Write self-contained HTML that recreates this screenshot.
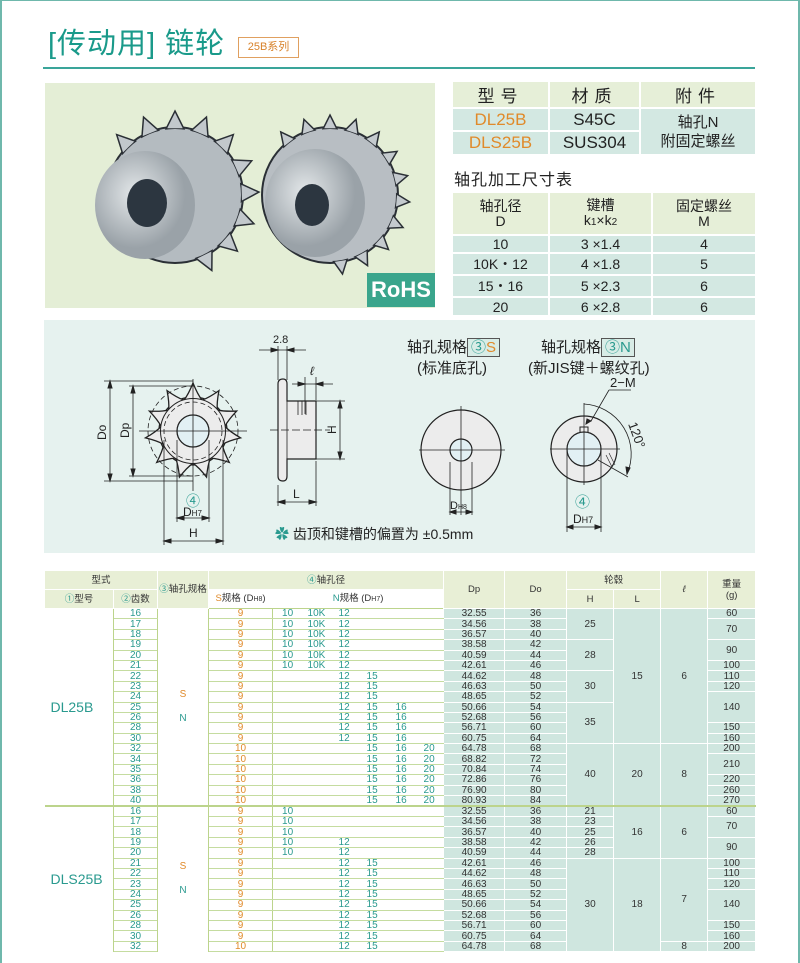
<!DOCTYPE html>
<html><head><meta charset="utf-8">
<style>
*{margin:0;padding:0;box-sizing:border-box}
body{width:800px;height:963px;position:relative;background:#fff;font-family:"Liberation Sans","Noto Sans CJK SC",sans-serif;color:#222;overflow:hidden}
.a{position:absolute}
.frame{left:0;top:0;width:800px;height:963px;border-left:2px solid #6fb8ac;border-top:1px solid #6fb8ac;border-right:2px solid #6fb8ac}
table{border-collapse:collapse;table-layout:fixed}
.tt td{text-align:center;padding:0}
#big{position:absolute;left:44px;top:570px;width:711px;font-size:10px;color:#333}
#big td{padding:0;text-align:center;line-height:9px;height:10.4px;white-space:nowrap}
#big tr{height:10.4px}
#big .h{background:#e8efd6;border:1px solid #fff;font-size:9.5px;color:#333;line-height:11px}
#big td.g{border-left:1.5px solid #bcd48c;border-right:1.5px solid #bcd48c;background:#fff;line-height:24px}
#big td.t{color:#2a9a8f;border-bottom:1px solid #c5dca0;border-left:1.5px solid #bcd48c;border-right:1.5px solid #bcd48c}
#big td.s{color:#e08a2a;border-bottom:1px solid #c5dca0;border-right:1.5px solid #bcd48c}
#big td.n{color:#2a9a8f;border-bottom:1px solid #c5dca0;text-align:left;padding-left:4px}
#big td.n1{padding-left:9px}
#big td.r{background:#cfe6df;border:1px solid #fff}
#big tr.sep td{border-top:2px solid #bcd48c}
#big td.m{font-size:14px;color:#2a9a8f;background:#fff;text-align:left;padding-left:6px;border-right:1.5px solid #bcd48c;line-height:16px}
</style></head><body>
<div class="a frame"></div>
<div class="a" style="left:48px;top:26px;font-size:29px;color:#1a9a8a;letter-spacing:1px;line-height:36px">[传动用] 链轮</div>
<div class="a" style="left:238px;top:37px;width:61px;height:21px;border:1.5px solid #e0a060;color:#d8822a;font-size:11px;line-height:18px;text-align:center">25B系列</div>
<div class="a" style="left:43px;top:67px;width:712px;height:2px;background:#3aa59a"></div>

<div class="a" style="left:45px;top:83px;width:390px;height:225px;background:#e4eed6"></div>
<svg class="a" style="left:45px;top:83px" width="390" height="225">
<defs><radialGradient id="m" cx="40%" cy="40%"><stop offset="0" stop-color="#e4e8ea"/><stop offset="1" stop-color="#9aa2a8"/></radialGradient></defs>
<g transform="translate(130,112)">
<circle r="68" fill="#b4bbc0" stroke="#2a2f35" stroke-width="2"/>
<g fill="#c2c8cc" stroke="#2a2f35" stroke-width="1.5">
<polygon points="0,-84 9,-66 -9,-66"/><polygon points="0,-84 9,-66 -9,-66" transform="rotate(22)"/><polygon points="0,-84 9,-66 -9,-66" transform="rotate(44)"/><polygon points="0,-84 9,-66 -9,-66" transform="rotate(66)"/><polygon points="0,-84 9,-66 -9,-66" transform="rotate(88)"/><polygon points="0,-84 9,-66 -9,-66" transform="rotate(110)"/><polygon points="0,-84 9,-66 -9,-66" transform="rotate(132)"/><polygon points="0,-84 9,-66 -9,-66" transform="rotate(154)"/><polygon points="0,-84 9,-66 -9,-66" transform="rotate(-22)"/><polygon points="0,-84 9,-66 -9,-66" transform="rotate(-44)"/></g>
<circle r="66" fill="#b4bbc0"/>
<ellipse cx="-30" cy="10" rx="50" ry="54" fill="url(#m)"/>
<ellipse cx="-28" cy="8" rx="20" ry="24" fill="#2c3640"/>
</g>
<g transform="translate(285,112)">
<circle r="68" fill="#b8bec3" stroke="#2a2f35" stroke-width="2"/>
<g fill="#c4cace" stroke="#2a2f35" stroke-width="1.5">
<polygon points="0,-80 7,-66 -7,-66"/><polygon points="0,-80 7,-66 -7,-66" transform="rotate(19)"/><polygon points="0,-80 7,-66 -7,-66" transform="rotate(38)"/><polygon points="0,-80 7,-66 -7,-66" transform="rotate(57)"/><polygon points="0,-80 7,-66 -7,-66" transform="rotate(76)"/><polygon points="0,-80 7,-66 -7,-66" transform="rotate(95)"/><polygon points="0,-80 7,-66 -7,-66" transform="rotate(114)"/><polygon points="0,-80 7,-66 -7,-66" transform="rotate(133)"/><polygon points="0,-80 7,-66 -7,-66" transform="rotate(152)"/><polygon points="0,-80 7,-66 -7,-66" transform="rotate(-19)"/><polygon points="0,-80 7,-66 -7,-66" transform="rotate(-38)"/><polygon points="0,-80 7,-66 -7,-66" transform="rotate(171)"/></g>
<circle r="66" fill="#b8bec3"/>
<ellipse cx="-15" cy="8" rx="50" ry="54" fill="url(#m)"/>
<ellipse cx="-18" cy="10" rx="17" ry="21" fill="#2c3640"/>
</g>
</svg>
<div class="a" style="left:367px;top:273px;width:68px;height:34px;background:#3aa58c;color:#fff;font-weight:bold;font-size:22px;line-height:34px;text-align:center">RoHS</div>

<table class="a tt" style="left:453px;top:82px;width:302px;font-size:17px">
<tr style="height:24px;background:#e6efd8"><td style="width:96px;border-right:2px solid #fff;letter-spacing:6px">型号</td><td style="width:91px;border-right:2px solid #fff;letter-spacing:6px">材质</td><td style="letter-spacing:6px">附件</td></tr>
<tr style="height:23px;background:#d3e8e2;border-top:2px solid #fff"><td style="color:#e08a2a;border-right:2px solid #fff">DL25B</td><td style="border-right:2px solid #fff">S45C</td><td rowspan="2" style="font-size:15px;line-height:19px">轴孔N<br>附固定螺丝</td></tr>
<tr style="height:23px;background:#d3e8e2;border-top:2px solid #fff"><td style="color:#e08a2a;border-right:2px solid #fff">DLS25B</td><td style="border-right:2px solid #fff">SUS304</td></tr>
</table>
<div class="a" style="left:454px;top:166px;font-size:16px;letter-spacing:1px">轴孔加工尺寸表</div>
<table class="a tt" style="left:453px;top:193px;width:302px;font-size:14px">
<tr style="height:42px;background:#e6efd8;line-height:15px"><td style="width:96px;border-right:2px solid #fff">轴孔径<br>D</td><td style="width:103px;border-right:2px solid #fff">键槽<br>k<span style="font-size:10px">1</span>×k<span style="font-size:10px">2</span></td><td>固定螺丝<br>M</td></tr>
<tr style="height:18px;background:#d3e8e2;border-top:2px solid #fff"><td style="border-right:2px solid #fff">10</td><td style="border-right:2px solid #fff">3 ×1.4</td><td>4</td></tr>
<tr style="height:18px;background:#d3e8e2;border-top:2px solid #fff"><td style="border-right:2px solid #fff">10K・12</td><td style="border-right:2px solid #fff">4 ×1.8</td><td>5</td></tr>
<tr style="height:18px;background:#d3e8e2;border-top:2px solid #fff"><td style="border-right:2px solid #fff">15・16</td><td style="border-right:2px solid #fff">5 ×2.3</td><td>6</td></tr>
<tr style="height:18px;background:#d3e8e2;border-top:2px solid #fff"><td style="border-right:2px solid #fff">20</td><td style="border-right:2px solid #fff">6 ×2.8</td><td>6</td></tr>
</table>

<div class="a" style="left:44px;top:320px;width:711px;height:233px;background:#e6f2ef"></div>
<svg class="a" style="left:0;top:0" width="800" height="560" font-family="Liberation Sans, Noto Sans CJK SC, sans-serif" font-size="11" fill="none" stroke="#222" stroke-width="1">
<g transform="translate(193,431)">
<circle r="34" fill="#ececec" stroke="#222" stroke-width="1.3"/>
<g fill="#ececec" stroke="#222" stroke-width="1.3">
<path id="tt" d="M -9,-31 C -5,-36 -2,-43 0,-48 C 2,-43 5,-36 9,-31"/>
<use href="#tt" transform="rotate(32.73)"/><use href="#tt" transform="rotate(65.45)"/><use href="#tt" transform="rotate(98.18)"/><use href="#tt" transform="rotate(130.9)"/><use href="#tt" transform="rotate(163.6)"/><use href="#tt" transform="rotate(196.4)"/><use href="#tt" transform="rotate(229.1)"/><use href="#tt" transform="rotate(261.8)"/><use href="#tt" transform="rotate(294.5)"/><use href="#tt" transform="rotate(327.3)"/>
</g>
<circle r="32.5" fill="#ececec"/>
<circle r="45" stroke-dasharray="5,3" stroke-width="0.8"/>
<circle r="29" stroke-dasharray="5,3" stroke-width="0.8"/>
<circle r="16" fill="#e2f0f4" stroke-width="1.3"/>
<line x1="-54" y1="0" x2="54" y2="0" stroke-width="0.8"/>
<line x1="0" y1="-52" x2="0" y2="60" stroke-width="0.8"/>
</g>
<line x1="104" y1="381" x2="193" y2="381" stroke-width="0.8"/><line x1="104" y1="481" x2="193" y2="481" stroke-width="0.8"/>
<line x1="110" y1="383" x2="110" y2="479" stroke-width="0.8"/>
<path d="M110,381 l-2,7 h4z M110,481 l-2,-7 h4z" fill="#222"/>
<line x1="129" y1="386" x2="193" y2="386" stroke-width="0.8"/><line x1="129" y1="476" x2="193" y2="476" stroke-width="0.8"/>
<line x1="133" y1="388" x2="133" y2="474" stroke-width="0.8"/>
<path d="M133,386 l-2,7 h4z M133,476 l-2,-7 h4z" fill="#222"/>
<text x="0" y="0" transform="translate(106,440) rotate(-90)" fill="#222" stroke="none" font-size="12">Do</text>
<text x="0" y="0" transform="translate(129,438) rotate(-90)" fill="#222" stroke="none" font-size="12">Dp</text>
<line x1="177" y1="440" x2="177" y2="522" stroke-width="0.8"/><line x1="209" y1="440" x2="209" y2="522" stroke-width="0.8"/>
<line x1="179" y1="518" x2="207" y2="518" stroke-width="0.8"/><path d="M177,518 l7,-2 v4z M209,518 l-7,-2 v4z" fill="#222"/>
<text x="186" y="506" fill="#2a9a8f" stroke="none" font-size="14">④</text>
<text x="183" y="516" fill="#222" stroke="none" font-size="12">D<tspan font-size="8">H7</tspan></text>
<line x1="164" y1="440" x2="164" y2="545" stroke-width="0.8"/><line x1="223" y1="440" x2="223" y2="545" stroke-width="0.8"/>
<line x1="166" y1="541" x2="221" y2="541" stroke-width="0.8"/><path d="M164,541 l7,-2 v4z M223,541 l-7,-2 v4z" fill="#222"/>
<text x="189" y="537" fill="#222" stroke="none" font-size="12">H</text>
<path d="M278,384 q0,-5 5,-5 q4,0 4,5 v17 h29 v58 h-29 v17 q0,5 -4,5 q-5,0 -5,-5z" fill="#ececec" stroke-width="1.2"/>
<line x1="287" y1="401" x2="287" y2="459" stroke-width="0.8"/>
<line x1="298" y1="401" x2="298" y2="415" stroke-width="0.8"/><line x1="302" y1="401" x2="302" y2="415" stroke-width="0.8"/><line x1="306" y1="401" x2="306" y2="415" stroke-width="0.8"/>
<line x1="270" y1="430" x2="330" y2="430" stroke-width="0.8" stroke-dasharray="8,3"/>
<line x1="278" y1="346" x2="278" y2="380" stroke-width="0.8"/><line x1="287" y1="346" x2="287" y2="380" stroke-width="0.8"/>
<line x1="259" y1="350" x2="306" y2="350" stroke-width="0.8"/><path d="M278,350 l-7,-2 v4z M287,350 l7,-2 v4z" fill="#222"/>
<text x="273" y="343" fill="#222" stroke="none" font-size="11">2.8</text>
<line x1="305" y1="377" x2="305" y2="414" stroke-width="0.8"/><line x1="316" y1="377" x2="316" y2="400" stroke-width="0.8"/>
<line x1="292" y1="384" x2="333" y2="384" stroke-width="0.8"/><path d="M305,384 l-7,-2 v4z M316,384 l7,-2 v4z" fill="#222"/>
<text x="310" y="375" fill="#222" stroke="none" font-size="12" font-style="italic">ℓ</text>
<line x1="316" y1="401" x2="345" y2="401" stroke-width="0.8"/><line x1="316" y1="459" x2="345" y2="459" stroke-width="0.8"/>
<line x1="340" y1="403" x2="340" y2="457" stroke-width="0.8"/><path d="M340,401 l-2,7 h4z M340,459 l-2,-7 h4z" fill="#222"/>
<text x="0" y="0" transform="translate(336,434) rotate(-90)" fill="#222" stroke="none" font-size="12">H</text>
<line x1="278" y1="485" x2="278" y2="506" stroke-width="0.8"/><line x1="316" y1="461" x2="316" y2="506" stroke-width="0.8"/>
<line x1="280" y1="502" x2="314" y2="502" stroke-width="0.8"/><path d="M278,502 l7,-2 v4z M316,502 l-7,-2 v4z" fill="#222"/>
<text x="293" y="498" fill="#222" stroke="none" font-size="12">L</text>
<circle cx="461" cy="450" r="40" fill="#ececec" stroke-width="1.2"/>
<circle cx="461" cy="450" r="11" fill="#e2f0f4" stroke-width="1.2"/>
<line x1="419" y1="450" x2="505" y2="450" stroke-width="0.8"/><line x1="461" y1="406" x2="461" y2="515" stroke-width="0.8"/>
<line x1="450" y1="462" x2="450" y2="515" stroke-width="0.8"/><line x1="472" y1="462" x2="472" y2="515" stroke-width="0.8"/>
<line x1="452" y1="512" x2="470" y2="512" stroke-width="0.8"/><path d="M450,512 l6,-2 v4z M472,512 l-6,-2 v4z" fill="#222"/>
<text x="450" y="509" fill="#222" stroke="none" font-size="11">D<tspan font-size="7">H8</tspan></text>
<circle cx="584" cy="449" r="33" fill="#ececec" stroke-width="1.2"/>
<path d="M580,432 v-5 h8 v5" fill="#ececec" stroke-width="1"/>
<circle cx="584" cy="449" r="17" fill="#e2f0f4" stroke-width="1.2"/>
<line x1="550" y1="449" x2="620" y2="449" stroke-width="0.8"/><line x1="584" y1="403" x2="584" y2="485" stroke-width="0.8"/>
<line x1="567" y1="449" x2="567" y2="532" stroke-width="0.8"/><line x1="601" y1="449" x2="601" y2="532" stroke-width="0.8"/>
<line x1="569" y1="527" x2="599" y2="527" stroke-width="0.8"/><path d="M567,527 l6,-2 v4z M601,527 l-6,-2 v4z" fill="#222"/>
<text x="575" y="507" fill="#2a9a8f" stroke="none" font-size="15">④</text>
<text x="573" y="523" fill="#222" stroke="none" font-size="12">D<tspan font-size="9">H7</tspan></text>
<path d="M584,404 A50,50 0 0 1 627,474" stroke-width="0.8"/>
<path d="M627,474 l-1,-7 l4,1z" fill="#222"/>
<line x1="598" y1="460" x2="628" y2="477" stroke-width="0.8"/>
<line x1="606" y1="455" x2="612" y2="467" stroke-width="0.6"/><line x1="609" y1="453" x2="615" y2="465" stroke-width="0.6"/>
<path d="M591,421 l-5,3 l1,-5z" fill="#222"/>
<line x1="591" y1="421" x2="609" y2="390" stroke-width="0.8"/><line x1="609" y1="390" x2="631" y2="390" stroke-width="0.8"/>
<text x="610" y="387" fill="#222" stroke="none" font-size="13">2−M</text>
<text x="0" y="0" transform="translate(628,424) rotate(70)" fill="#222" stroke="none" font-size="13">120°</text>
</svg>
<div class="a" style="left:407px;top:337px;font-size:15px;line-height:22px">轴孔规格<span style="border:1px solid #555;background:#d8ece6;padding:0 3px"><span style="color:#2a9a8f">③</span><span style="color:#e08a2a">S</span></span></div>
<div class="a" style="left:417px;top:358px;font-size:15px;line-height:22px">(标准底孔)</div>
<div class="a" style="left:541px;top:337px;font-size:15px;line-height:22px">轴孔规格<span style="border:1px solid #555;background:#d8ece6;padding:0 3px;color:#2a9a8f">③N</span></div>
<div class="a" style="left:528px;top:358px;font-size:15px;line-height:22px">(新JIS键＋螺纹孔)</div>
<div class="a" style="left:275px;top:524px;font-size:14px;line-height:20px"><span style="color:#2a9a8f">✿</span> 齿顶和键槽的偏置为 ±0.5mm</div>

<table id="big">
<colgroup><col style="width:69px"><col style="width:44px"><col style="width:51px"><col style="width:64px"><col style="width:31px"><col style="width:31px"><col style="width:28px"><col style="width:29px"><col style="width:28px"><col style="width:24px"><col style="width:61px"><col style="width:62px"><col style="width:47px"><col style="width:47px"><col style="width:47px"><col style="width:48px"></colgroup>
<tr style="height:19px"><td class="h" colspan="2">型式</td><td class="h" rowspan="2"><span style="color:#2a9a8f">③</span>轴孔规格</td><td class="h" colspan="7"><span style="color:#2a9a8f">④</span>轴孔径</td><td class="h" rowspan="2">Dp</td><td class="h" rowspan="2">Do</td><td class="h" colspan="2">轮毂</td><td class="h" rowspan="2"><i>ℓ</i></td><td class="h" rowspan="2">重量<br>(g)</td></tr>
<tr style="height:19px"><td class="h"><span style="color:#2a9a8f">①</span>型号</td><td class="h"><span style="color:#2a9a8f">②</span>齿数</td><td class="h" style="background:#fff;border-bottom:1.5px solid #bcd48c"><span style="color:#e08a2a">S</span>规格 (D<span style="font-size:7px">H8</span>)</td><td class="h" colspan="6" style="background:#fff;border-bottom:1.5px solid #bcd48c"><span style="color:#2a9a8f">N</span>规格 (D<span style="font-size:7px">H7</span>)</td><td class="h">H</td><td class="h">L</td></tr>
<tr><td class="m" rowspan="19">DL25B</td><td class="t">16</td><td class="g" rowspan="19" style="color:#e08a2a">S<br><span style="color:#2a9a8f">N</span></td><td class="s">9</td><td class="n n1">10</td><td class="n">10K</td><td class="n">12</td><td class="n"></td><td class="n"></td><td class="n"></td><td class="r">32.55</td><td class="r">36</td><td class="r" rowspan="3">25</td><td class="r" rowspan="13">15</td><td class="r" rowspan="13">6</td><td class="r">60</td></tr>
<tr><td class="t">17</td><td class="s">9</td><td class="n n1">10</td><td class="n">10K</td><td class="n">12</td><td class="n"></td><td class="n"></td><td class="n"></td><td class="r">34.56</td><td class="r">38</td><td class="r" rowspan="2">70</td></tr>
<tr><td class="t">18</td><td class="s">9</td><td class="n n1">10</td><td class="n">10K</td><td class="n">12</td><td class="n"></td><td class="n"></td><td class="n"></td><td class="r">36.57</td><td class="r">40</td></tr>
<tr><td class="t">19</td><td class="s">9</td><td class="n n1">10</td><td class="n">10K</td><td class="n">12</td><td class="n"></td><td class="n"></td><td class="n"></td><td class="r">38.58</td><td class="r">42</td><td class="r" rowspan="3">28</td><td class="r" rowspan="2">90</td></tr>
<tr><td class="t">20</td><td class="s">9</td><td class="n n1">10</td><td class="n">10K</td><td class="n">12</td><td class="n"></td><td class="n"></td><td class="n"></td><td class="r">40.59</td><td class="r">44</td></tr>
<tr><td class="t">21</td><td class="s">9</td><td class="n n1">10</td><td class="n">10K</td><td class="n">12</td><td class="n"></td><td class="n"></td><td class="n"></td><td class="r">42.61</td><td class="r">46</td><td class="r">100</td></tr>
<tr><td class="t">22</td><td class="s">9</td><td class="n n1"></td><td class="n"></td><td class="n">12</td><td class="n">15</td><td class="n"></td><td class="n"></td><td class="r">44.62</td><td class="r">48</td><td class="r" rowspan="3">30</td><td class="r">110</td></tr>
<tr><td class="t">23</td><td class="s">9</td><td class="n n1"></td><td class="n"></td><td class="n">12</td><td class="n">15</td><td class="n"></td><td class="n"></td><td class="r">46.63</td><td class="r">50</td><td class="r">120</td></tr>
<tr><td class="t">24</td><td class="s">9</td><td class="n n1"></td><td class="n"></td><td class="n">12</td><td class="n">15</td><td class="n"></td><td class="n"></td><td class="r">48.65</td><td class="r">52</td><td class="r" rowspan="3">140</td></tr>
<tr><td class="t">25</td><td class="s">9</td><td class="n n1"></td><td class="n"></td><td class="n">12</td><td class="n">15</td><td class="n">16</td><td class="n"></td><td class="r">50.66</td><td class="r">54</td><td class="r" rowspan="4">35</td></tr>
<tr><td class="t">26</td><td class="s">9</td><td class="n n1"></td><td class="n"></td><td class="n">12</td><td class="n">15</td><td class="n">16</td><td class="n"></td><td class="r">52.68</td><td class="r">56</td></tr>
<tr><td class="t">28</td><td class="s">9</td><td class="n n1"></td><td class="n"></td><td class="n">12</td><td class="n">15</td><td class="n">16</td><td class="n"></td><td class="r">56.71</td><td class="r">60</td><td class="r">150</td></tr>
<tr><td class="t">30</td><td class="s">9</td><td class="n n1"></td><td class="n"></td><td class="n">12</td><td class="n">15</td><td class="n">16</td><td class="n"></td><td class="r">60.75</td><td class="r">64</td><td class="r">160</td></tr>
<tr><td class="t">32</td><td class="s">10</td><td class="n n1"></td><td class="n"></td><td class="n"></td><td class="n">15</td><td class="n">16</td><td class="n">20</td><td class="r">64.78</td><td class="r">68</td><td class="r" rowspan="6">40</td><td class="r" rowspan="6">20</td><td class="r" rowspan="6">8</td><td class="r">200</td></tr>
<tr><td class="t">34</td><td class="s">10</td><td class="n n1"></td><td class="n"></td><td class="n"></td><td class="n">15</td><td class="n">16</td><td class="n">20</td><td class="r">68.82</td><td class="r">72</td><td class="r" rowspan="2">210</td></tr>
<tr><td class="t">35</td><td class="s">10</td><td class="n n1"></td><td class="n"></td><td class="n"></td><td class="n">15</td><td class="n">16</td><td class="n">20</td><td class="r">70.84</td><td class="r">74</td></tr>
<tr><td class="t">36</td><td class="s">10</td><td class="n n1"></td><td class="n"></td><td class="n"></td><td class="n">15</td><td class="n">16</td><td class="n">20</td><td class="r">72.86</td><td class="r">76</td><td class="r">220</td></tr>
<tr><td class="t">38</td><td class="s">10</td><td class="n n1"></td><td class="n"></td><td class="n"></td><td class="n">15</td><td class="n">16</td><td class="n">20</td><td class="r">76.90</td><td class="r">80</td><td class="r">260</td></tr>
<tr><td class="t">40</td><td class="s">10</td><td class="n n1"></td><td class="n"></td><td class="n"></td><td class="n">15</td><td class="n">16</td><td class="n">20</td><td class="r">80.93</td><td class="r">84</td><td class="r">270</td></tr>
<tr class="sep"><td class="m" rowspan="14">DLS25B</td><td class="t">16</td><td class="g" rowspan="14" style="color:#e08a2a">S<br><span style="color:#2a9a8f">N</span></td><td class="s">9</td><td class="n n1">10</td><td class="n"></td><td class="n"></td><td class="n"></td><td class="n"></td><td class="n"></td><td class="r">32.55</td><td class="r">36</td><td class="r">21</td><td class="r" rowspan="5">16</td><td class="r" rowspan="5">6</td><td class="r">60</td></tr>
<tr><td class="t">17</td><td class="s">9</td><td class="n n1">10</td><td class="n"></td><td class="n"></td><td class="n"></td><td class="n"></td><td class="n"></td><td class="r">34.56</td><td class="r">38</td><td class="r">23</td><td class="r" rowspan="2">70</td></tr>
<tr><td class="t">18</td><td class="s">9</td><td class="n n1">10</td><td class="n"></td><td class="n"></td><td class="n"></td><td class="n"></td><td class="n"></td><td class="r">36.57</td><td class="r">40</td><td class="r">25</td></tr>
<tr><td class="t">19</td><td class="s">9</td><td class="n n1">10</td><td class="n"></td><td class="n">12</td><td class="n"></td><td class="n"></td><td class="n"></td><td class="r">38.58</td><td class="r">42</td><td class="r">26</td><td class="r" rowspan="2">90</td></tr>
<tr><td class="t">20</td><td class="s">9</td><td class="n n1">10</td><td class="n"></td><td class="n">12</td><td class="n"></td><td class="n"></td><td class="n"></td><td class="r">40.59</td><td class="r">44</td><td class="r">28</td></tr>
<tr><td class="t">21</td><td class="s">9</td><td class="n n1"></td><td class="n"></td><td class="n">12</td><td class="n">15</td><td class="n"></td><td class="n"></td><td class="r">42.61</td><td class="r">46</td><td class="r" rowspan="9">30</td><td class="r" rowspan="9">18</td><td class="r" rowspan="8">7</td><td class="r">100</td></tr>
<tr><td class="t">22</td><td class="s">9</td><td class="n n1"></td><td class="n"></td><td class="n">12</td><td class="n">15</td><td class="n"></td><td class="n"></td><td class="r">44.62</td><td class="r">48</td><td class="r">110</td></tr>
<tr><td class="t">23</td><td class="s">9</td><td class="n n1"></td><td class="n"></td><td class="n">12</td><td class="n">15</td><td class="n"></td><td class="n"></td><td class="r">46.63</td><td class="r">50</td><td class="r">120</td></tr>
<tr><td class="t">24</td><td class="s">9</td><td class="n n1"></td><td class="n"></td><td class="n">12</td><td class="n">15</td><td class="n"></td><td class="n"></td><td class="r">48.65</td><td class="r">52</td><td class="r" rowspan="3">140</td></tr>
<tr><td class="t">25</td><td class="s">9</td><td class="n n1"></td><td class="n"></td><td class="n">12</td><td class="n">15</td><td class="n"></td><td class="n"></td><td class="r">50.66</td><td class="r">54</td></tr>
<tr><td class="t">26</td><td class="s">9</td><td class="n n1"></td><td class="n"></td><td class="n">12</td><td class="n">15</td><td class="n"></td><td class="n"></td><td class="r">52.68</td><td class="r">56</td></tr>
<tr><td class="t">28</td><td class="s">9</td><td class="n n1"></td><td class="n"></td><td class="n">12</td><td class="n">15</td><td class="n"></td><td class="n"></td><td class="r">56.71</td><td class="r">60</td><td class="r">150</td></tr>
<tr><td class="t">30</td><td class="s">9</td><td class="n n1"></td><td class="n"></td><td class="n">12</td><td class="n">15</td><td class="n"></td><td class="n"></td><td class="r">60.75</td><td class="r">64</td><td class="r">160</td></tr>
<tr><td class="t">32</td><td class="s">10</td><td class="n n1"></td><td class="n"></td><td class="n">12</td><td class="n">15</td><td class="n"></td><td class="n"></td><td class="r">64.78</td><td class="r">68</td><td class="r">8</td><td class="r">200</td></tr>
</table>
</body></html>
